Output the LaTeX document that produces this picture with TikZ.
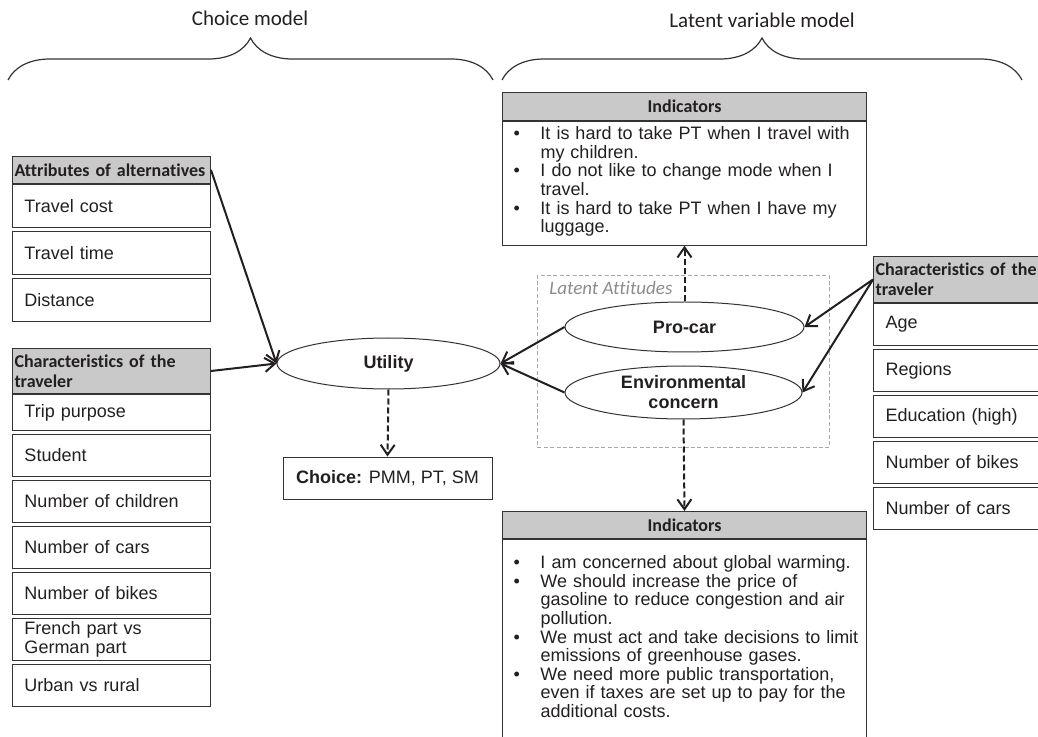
\documentclass[tikz,border=0pt]{standalone}
\usepackage{fontspec}
\setmainfont{Liberation Sans}
\newfontfamily\calfont[Ligatures=NoCommon]{Carlito}
\usetikzlibrary{positioning,shapes.geometric,arrows.meta,decorations.pathreplacing}
\definecolor{boxStroke}{HTML}{333333}
\definecolor{hdrFill}{HTML}{c9c9c9}
\definecolor{txtCol}{HTML}{231f20}
\definecolor{latentStroke}{HTML}{a8a8a8}
\definecolor{latentText}{HTML}{8c8c8c}

\begin{document}
\begin{tikzpicture}[x=0.5pt, y=-0.5pt,
  font=\fontsize{9}{9.3}\selectfont, text=txtCol,
  hdr/.style={draw=boxStroke, fill=hdrFill, line width=0.5pt, anchor=north west,
              minimum width=99pt, text width=97pt, inner xsep=1pt, inner ysep=1pt,
              align=left, font=\calfont\bfseries\fontsize{9}{10}\selectfont},
  attr/.style={draw=boxStroke, line width=0.5pt, minimum width=99pt, text width=87pt,
               minimum height=21pt, inner xsep=6pt, inner ysep=1pt, align=left},
  indhdr/.style={hdr, minimum width=182pt, text width=180pt, minimum height=14pt, align=center},
  indbody/.style={draw=boxStroke, line width=0.5pt, anchor=north west, minimum width=182pt,
                  text width=171pt, inner xsep=5.5pt, inner ysep=2.5pt, align=left},
  lv/.style={draw=boxStroke, fill=white, line width=0.5pt, ellipse, inner sep=0pt,
             align=center, font=\bfseries\fontsize{9}{10}\selectfont},
  latentbox/.style={draw=latentStroke, dash pattern=on 2pt off 1.2pt, line width=0.4pt, anchor=north west},
  ttl/.style={font=\calfont\fontsize{10.5}{12}\selectfont},
  brc/.style={decorate, decoration={brace, amplitude=21pt}, line width=0.6pt, draw=boxStroke},
  arr/.style={-{Straight Barb[length=5pt, width=7pt]}, line width=1pt, draw=txtCol},
  darr/.style={arr, dash pattern=on 3pt off 1.5pt}
]
\useasboundingbox (0,0) rectangle (1038,737);
\clip (0,0) rectangle (1038,737);

% ============ TITLES AND BRACES ============
\node[ttl] (tChoice) at (250,18) {Choice model};
\node[ttl] (tLatent) at (762,20) {Latent variable model};
\draw[brc] (8,80) -- (493,80);
\draw[brc] (502,80) -- (1022,80);

% ============ LEFT: CHOICE MODEL INPUTS ============
\node[hdr, minimum height=13.5pt] (attrHdr) at (12,156) {Attributes of alternatives};
\node[attr, minimum height=21.5pt, below=0pt of attrHdr] (cost) {Travel cost};
\node[attr, minimum height=21.5pt, below=1.5pt of cost] (time) {Travel time};
\node[attr, minimum height=21.5pt, below=1.5pt of time] (dist) {Distance};

\node[hdr, minimum height=22.5pt] (charHdr) at (12,348) {Characteristics of the\\traveler};
\node[attr, minimum height=18pt, below=0pt of charHdr] (trip) {Trip purpose};
\node[attr, below=1.5pt of trip]    (student) {Student};
\node[attr, below=1.5pt of student] (kids)    {Number of children};
\node[attr, below=1.5pt of kids]    (cars)    {Number of cars};
\node[attr, below=1.5pt of cars]    (bikes)   {Number of bikes};
\node[attr, below=1.5pt of bikes]   (lang)    {French part vs\\German part};
\node[attr, below=1.5pt of lang]    (urban)   {Urban vs rural};

% ============ CENTRE: UTILITY AND CHOICE ============
\node[lv, minimum width=111.5pt, minimum height=25.5pt] (util) at (388.5,363.5) {Utility};
\node[draw=boxStroke, line width=0.5pt, minimum width=104.5pt, minimum height=21pt] (choice)
  at (387.5,478) {\textbf{Choice:} PMM, PT, SM};

% ============ LATENT ATTITUDES ============
\node[latentbox, minimum width=146pt, minimum height=86pt] (latent) at (537,275) {};
\node[anchor=north west, inner xsep=6pt, inner ysep=3pt, text=latentText,
      font=\calfont\itshape\fontsize{9.5}{11}\selectfont] (latentLbl) at (latent.north west) {Latent Attitudes};
\node[lv, minimum width=119.5pt, minimum height=25pt]   (procar) at (684.5,327)   {Pro-car};
\node[lv, minimum width=118.5pt, minimum height=26.5pt] (env)    at (683.5,392.5) {Environmental\\concern};

% ============ INDICATORS ============
\node[indhdr] (indTopHdr) at (502,92) {Indicators};
\node[indbody] (indTop) at (indTopHdr.south west) {%
  \begin{tabular}{@{}p{13.5pt}@{}l@{}}
  \textbullet & It is hard to take PT when I travel with\\
              & my children.\\
  \textbullet & I do not like to change mode when I\\
              & travel.\\
  \textbullet & It is hard to take PT when I have my\\
              & luggage.\\[1pt]
  \end{tabular}};

\node[indhdr, minimum height=13.5pt] (indBotHdr) at (502,511) {Indicators};
\node[indbody, inner ysep=8pt] (indBot) at (indBotHdr.south west) {%
  \begin{tabular}{@{}p{13.5pt}@{}l@{}}
  \textbullet & I am concerned about global warming.\\
  \textbullet & We should increase the price of\\
              & gasoline to reduce congestion and air\\
              & pollution.\\
  \textbullet & We must act and take decisions to limit\\
              & emissions of greenhouse gases.\\
  \textbullet & We need more public transportation,\\
              & even if taxes are set up to pay for the\\
              & additional costs.\\[8pt]
  \end{tabular}};

% ============ RIGHT: TRAVELER CHARACTERISTICS ============
\node[hdr, minimum height=23pt] (rcharHdr) at (873,256) {Characteristics of the\\traveler};
\node[attr, below=0pt of rcharHdr] (age)    {Age};
\node[attr, below=1.5pt of age]    (region) {Regions};
\node[attr, below=1.5pt of region] (edu)    {Education (high)};
\node[attr, below=1.5pt of edu]    (rbikes) {Number of bikes};
\node[attr, below=1.5pt of rbikes] (rcars)  {Number of cars};

% ============ CONNECTORS ============
\draw[arr] (attrHdr.east) -- (util.west);
\draw[arr] (charHdr.east) -- (util.west);
\draw[arr] (procar.west) -- (util.east);
\draw[arr] (env.west) -- (util.east);
\draw[arr] (rcharHdr.west) -- (procar.east);
\draw[arr] (rcharHdr.west) -- (env.east);
\draw[darr] (util.south) -- (choice.north);
\draw[darr] (procar.north) -- (indTop.south);
\draw[darr] (env.south) -- (indBotHdr.north);

\end{tikzpicture}
\end{document}
